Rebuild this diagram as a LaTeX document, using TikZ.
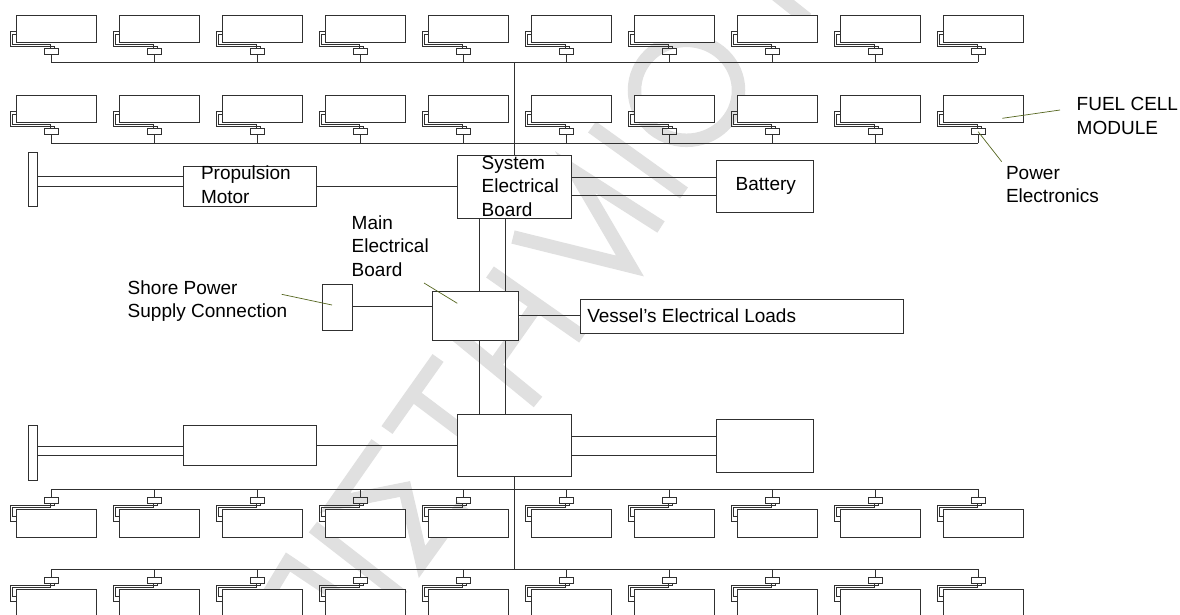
\documentclass[tikz,border=0pt]{standalone}
\usepackage{fontspec}
\setmainfont{Liberation Sans}
\definecolor{wm}{HTML}{E0E0E0}
\definecolor{leader}{HTML}{55661F}
\definecolor{ink}{HTML}{303030}
\tikzset{
  box/.style={draw=ink,line width=1pt,fill=white,anchor=north west,inner sep=0pt,outer sep=0pt,rectangle},
  pebox/.style={draw=ink,line width=1pt,anchor=north west,inner sep=0pt,outer sep=0pt,rectangle,minimum width=13.7pt,minimum height=6pt},
  wire/.style={draw=ink,line width=1pt},
  mark line/.style={draw=wm,line width=13.5pt,line join=miter},
  lead/.style={draw=leader,line width=0.7pt},
  lbl/.style={anchor=base west,inner sep=0pt,outer sep=0pt,align=left,font=\fontsize{19}{23.3}\selectfont},
}
\begin{document}
\begin{tikzpicture}[x=1pt,y=-1pt]
\useasboundingbox (0,0) rectangle (1180,614);
\clip (0,0) rectangle (1180,614);
\fill[white] (0,0) rectangle (1180,614);
% watermark
\draw[mark line] (250,625) -- (288,562) -- (385,627);
\draw[mark line] (313,527) -- (403,597);
\draw[mark line] (377,443) -- (335,503) -- (405,489) -- (422,562) -- (463,505);
\draw[mark line] (438,358) -- (387,430);
\draw[mark line] (412,394) -- (497,458);
\draw[mark line] (450,330) -- (538,402);
\draw[mark line] (490,272) -- (583,337);
\draw[mark line] (494,366) -- (537,305);
\draw[mark line] (661,227) -- (575,172) -- (630,266) -- (513,237);
\draw[mark line] (592,127) -- (684,193);
\draw[mark line] (686.5,90.3) ellipse [x radius=52,y radius=50];
\draw[mark line] (807,19) -- (759,-19);
% top modules
\foreach \r in {0,1}{
  \pgfmathsetmacro{\yo}{15+80*\r}
  \pgfmathsetmacro{\yb}{\yo+47.3+\r}
  \coordinate (ta\r) at (51.3,\yb);
  \coordinate (tb\r) at (978.3,\yb);
  \draw[wire] (ta\r) -- (tb\r);
  \foreach \i in {0,...,9}{
    \pgfmathsetmacro{\xo}{16.7+103*\i}
    \node[box,minimum width=80pt,minimum height=27.7pt] (t\r-\i) at (\xo,\yo) {};
    \node[pebox] (tp\r-\i) at (\xo+27.6,\yo+33.7) {};
    \draw[wire] (t\r-\i.west |- 0,\yo+16) -- (\xo-6.4,\yo+16) -- (\xo-6.4,\yo+31.3) -- (\xo+37.3,\yo+31.3) -- (\xo+37.3,\yo+33.7);
    \draw[wire] (t\r-\i.west |- 0,\yo+19.3) -- (\xo-4,\yo+19.3) -- (\xo-4,\yo+29) -- (\xo+33.3,\yo+29) -- (\xo+33.3,\yo+33.7);
    \draw[wire] (tp\r-\i.south) -- (tp\r-\i.south |- ta\r);
  }
}
% bottom modules
\foreach \r in {0,1}{
  \pgfmathsetmacro{\yo}{509.3+80*\r}
  \coordinate (ba\r) at (51.3,\yo-20);
  \coordinate (bb\r) at (978.3,\yo-20);
  \draw[wire] (ba\r) -- (bb\r);
  \foreach \i in {0,...,9}{
    \pgfmathsetmacro{\xo}{16.7+103*\i}
    \node[box,minimum width=80pt,minimum height=27.7pt] (b\r-\i) at (\xo,\yo) {};
    \node[pebox] (bp\r-\i) at (\xo+27.6,\yo-12.2) {};
    \draw[wire] (b\r-\i.west |- 0,\yo+11.7) -- (\xo-6.4,\yo+11.7) -- (\xo-6.4,\yo-3.7) -- (\xo+37.3,\yo-3.7) -- (\xo+37.3,\yo-6.2);
    \draw[wire] (b\r-\i.west |- 0,\yo+7.4) -- (\xo-4,\yo+7.4) -- (\xo-4,\yo-1.8) -- (\xo+33.3,\yo-1.8) -- (\xo+33.3,\yo-6.2);
    \draw[wire] (bp\r-\i.north) -- (bp\r-\i.north |- ba\r);
  }
}
% main boxes
\node[box,minimum width=9pt,minimum height=54pt] (plateA) at (28.3,152.7) {};
\node[box,minimum width=132.3pt,minimum height=39.6pt] (motorA) at (183.7,166.7) {};
\node[box,minimum width=113.6pt,minimum height=63pt] (sebA) at (457.7,155) {};
\node[box,minimum width=96.6pt,minimum height=52.4pt] (batA) at (716.7,160.3) {};
\node[box,minimum width=86.3pt,minimum height=49.7pt] (meb) at (432,291) {};
\node[box,minimum width=323pt,minimum height=33.7pt] (loads) at (580,299.3) {};
\node[box,minimum width=30.3pt,minimum height=45.7pt] (shore) at (322,284.3) {};
\node[box,minimum width=9pt,minimum height=54.7pt] (plateB) at (28.3,425.3) {};
\node[box,minimum width=132.3pt,minimum height=40.4pt] (motorB) at (183.7,425.3) {};
\node[box,minimum width=113.6pt,minimum height=62.4pt] (sebB) at (457.7,414.3) {};
\node[box,minimum width=96.6pt,minimum height=53pt] (batB) at (716.7,419) {};
% connectors
\draw[wire] (sebA.north) -- (sebA.north |- ta0);
\draw[wire] (sebB.south) -- (sebB.south |- ba1);
\draw[wire] (plateA.east |- 0,176.3) -- (motorA.west |- 0,176.3);
\draw[wire] (plateA.east |- 0,186.3) -- (motorA.west |- 0,186.3);
\draw[wire] (motorA.east) -- (sebA.west);
\draw[wire] (sebA.east |- 0,177.3) -- (batA.west |- 0,177.3);
\draw[wire] (sebA.east |- 0,195.7) -- (batA.west |- 0,195.7);
\draw[wire] (sebA.south -| 479,0) -- (meb.north -| 479,0);
\draw[wire] (sebA.south -| 505.7,0) -- (meb.north -| 505.7,0);
\draw[wire] (meb.south -| 479,0) -- (sebB.north -| 479,0);
\draw[wire] (meb.south -| 505.7,0) -- (sebB.north -| 505.7,0);
\draw[wire] (shore.east |- 0,306.7) -- (meb.west |- 0,306.7);
\draw[wire] (meb.east |- 0,315.7) -- (loads.west |- 0,315.7);
\draw[wire] (plateB.east |- 0,446) -- (motorB.west |- 0,446);
\draw[wire] (plateB.east |- 0,455.3) -- (motorB.west |- 0,455.3);
\draw[wire] (motorB.east) -- (sebB.west);
\draw[wire] (sebB.east |- 0,436.7) -- (batB.west |- 0,436.7);
\draw[wire] (sebB.east |- 0,455) -- (batB.west |- 0,455);
% labels (the base anchor of a multi-line node is its last line)
\node[lbl] (tProp) at (201,203) {Propulsion\\Motor};
\node[lbl] (tSys) at (481.7,216) {System\\Electrical\\Board};
\node[lbl] (tBat) at (735.7,190.7) {Battery};
\node[lbl] (tMain) at (351.7,276) {Main\\Electrical\\Board};
\node[lbl] (tShore) at (127.7,317.7) {Shore Power\\Supply Connection};
\node[lbl] (tLoads) at (587.3,322) {Vessel{\char"27}s Electrical Loads};
\node[lbl] (tFuel) at (1076.7,134) {FUEL CELL\\MODULE};
\node[lbl] (tPower) at (1006,202.7) {Power\\Electronics};
% leaders
\coordinate (lf) at (1060,110);
\coordinate (lfe) at (1002.3,118.3);
\coordinate (lp) at (1001.7,161.7);
\coordinate (ls) at (281.7,294.3);
\coordinate (lse) at (332,305);
\coordinate (lm) at (424,283);
\coordinate (lme) at (457.3,303.3);
\draw[lead] (lf) -- (lfe);
\draw[lead] (lp) -- (tp1-9.center);
\draw[lead] (ls) -- (lse);
\draw[lead] (lm) -- (lme);
\end{tikzpicture}
\end{document}
